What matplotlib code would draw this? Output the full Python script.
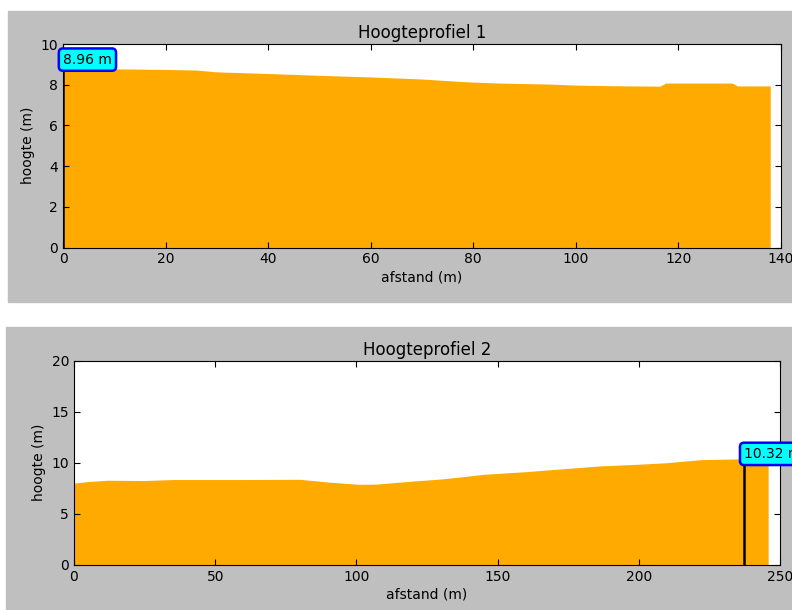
import matplotlib
matplotlib.use('Agg')
import matplotlib.pyplot as plt
from matplotlib.patches import Rectangle

# profile 1: distance (m) and height (m)
afstand_1 = [0, 10, 20, 26, 30, 40, 50, 60, 70, 78, 85, 95, 100, 110, 116.4, 117.5, 130.5, 131.5, 137.9]
hoogte_1 = [8.80, 8.78, 8.75, 8.72, 8.63, 8.55, 8.46, 8.38, 8.28, 8.15, 8.08, 8.03, 7.98, 7.94, 7.93, 8.08, 8.08, 7.94, 7.94]
punt_1 = (0, 8.96)

# profile 2
afstand_2 = [0, 5, 12, 25, 35, 60, 80, 90, 101, 107, 120, 130, 140, 145, 160, 172, 186, 200, 210, 222, 237, 245.8]
hoogte_2 = [8.0, 8.15, 8.28, 8.25, 8.35, 8.35, 8.37, 8.1, 7.88, 7.9, 8.2, 8.4, 8.7, 8.86, 9.12, 9.38, 9.68, 9.85, 10.0, 10.3, 10.38, 10.38]
punt_2 = (237.3, 10.32)

gray = '#bfbfbf'
fill_color = '#ffaa00'
fs = 10

fig = plt.figure(figsize=(7.92, 6.10), dpi=100, facecolor='white')
fig.patches.append(Rectangle((8 / 792, 1 - 302 / 610), 1, 291 / 610,
                             transform=fig.transFigure, color=gray, zorder=-5))
fig.patches.append(Rectangle((6 / 792, 0), 1, 283 / 610,
                             transform=fig.transFigure, color=gray, zorder=-5))


def profile(ax, x, y, punt, title, xlim, ylim, xticks, yticks):
    ax.fill_between(x, y, 0, color=fill_color, lw=0)
    ax.plot([punt[0], punt[0]], [0, punt[1]], color='black', lw=1.8)
    ax.annotate('%.2f m' % punt[1], xy=punt, xytext=(0, 4), textcoords='offset points',
                ha='left', va='center', fontsize=fs, annotation_clip=False,
                bbox=dict(boxstyle='round,pad=0.3', fc='cyan', ec='blue', lw=1.8))
    ax.set_xlim(xlim)
    ax.set_ylim(ylim)
    ax.set_xticks(xticks)
    ax.set_yticks(yticks)
    ax.tick_params(direction='in', top=True, right=True, labelsize=fs, length=4)
    ax.set_title(title, fontsize=12, pad=4)
    ax.set_xlabel('afstand (m)', fontsize=fs, labelpad=3)
    ax.set_ylabel('hoogte (m)', fontsize=fs)
    ax.set_facecolor('white')


ax1 = fig.add_axes([63 / 792, 1 - 247.5 / 610, 718 / 792, 203.5 / 610])
profile(ax1, afstand_1, hoogte_1, punt_1, 'Hoogteprofiel 1', (0, 140), (0, 10),
        range(0, 141, 20), range(0, 11, 2))

ax2 = fig.add_axes([74 / 792, 1 - 564.7 / 610, 706 / 792, 204 / 610])
profile(ax2, afstand_2, hoogte_2, punt_2, 'Hoogteprofiel 2', (0, 250), (0, 20),
        range(0, 251, 50), range(0, 21, 5))

fig.savefig('out.png', dpi=100, facecolor='white')
